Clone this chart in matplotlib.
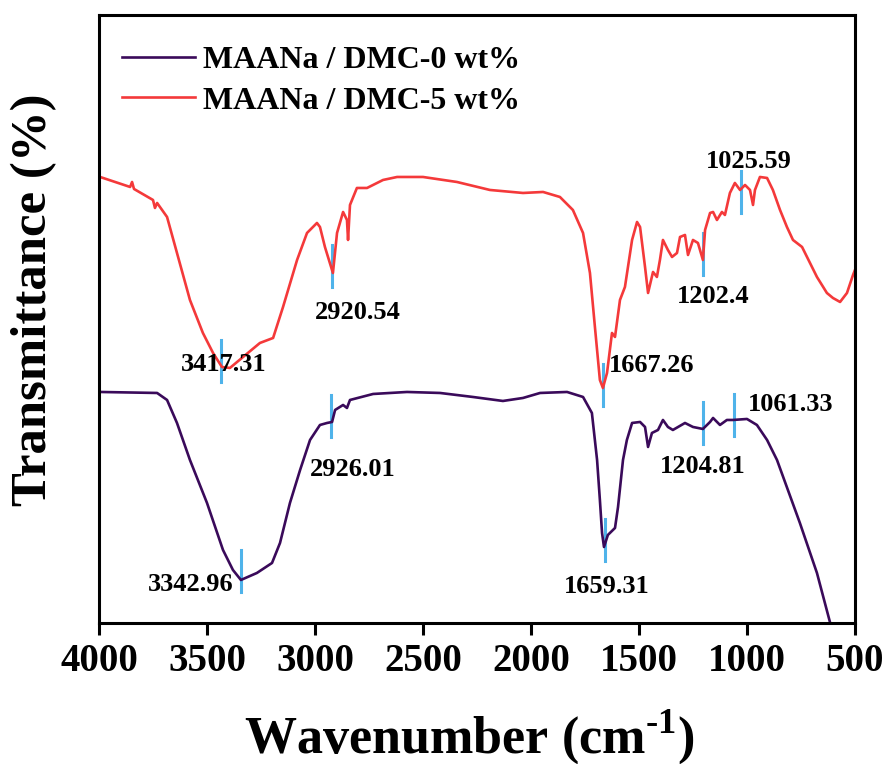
import matplotlib
matplotlib.use("Agg")
import matplotlib.pyplot as plt

plt.rcParams['font.family'] = ['Liberation Serif', 'DejaVu Serif']
plt.rcParams['font.weight'] = 'bold'
plt.rcParams['mathtext.fontset'] = 'custom'
plt.rcParams['mathtext.rm'] = 'Liberation Serif:bold'
plt.rcParams['mathtext.bf'] = 'Liberation Serif:bold'

# MAANa / DMC-0 wt% (wavenumber, transmittance a.u.)
wn_0 = [3995, 3731, 3685, 3639, 3579, 3500, 3426, 3380, 3343, 3269, 3199, 3162,
        3116, 3069, 3023, 2977, 2944, 2921, 2907, 2870, 2852, 2838, 2731, 2574,
        2421, 2269, 2130, 2037, 1958, 1833, 1759, 1718, 1694, 1681, 1671, 1662,
        1644, 1611, 1597, 1574, 1556, 1532, 1495, 1472, 1458, 1440, 1412, 1389,
        1366, 1343, 1319, 1287, 1250, 1204, 1171, 1157, 1125, 1093, 1065, 1000,
        954, 907, 861, 755, 676, 616, 569]
tr_0 = [231, 230, 223, 200, 163, 120, 73, 53, 43, 50, 60, 80,
        120, 153, 183, 198, 200, 201, 213, 218, 215, 223, 229, 231,
        230, 226, 222, 225, 230, 231, 226, 210, 163, 123, 90, 76,
        88, 95, 116, 163, 183, 200, 201, 196, 176, 190, 193, 203,
        196, 193, 196, 200, 196, 194, 201, 205, 198, 203, 203, 204,
        198, 183, 163, 100, 50, 1, -37]

# MAANa / DMC-5 wt%
wn_5 = [3995, 3856, 3847, 3838, 3750, 3741, 3731, 3685, 3639, 3579, 3519, 3472,
        3431, 3394, 3333, 3255, 3194, 3148, 3083, 3037, 2991, 2977, 2954, 2917,
        2898, 2870, 2852, 2847, 2838, 2806, 2759, 2685, 2620, 2500, 2343, 2190,
        2037, 1944, 1866, 1806, 1759, 1727, 1704, 1681, 1667, 1648, 1625, 1611,
        1588, 1565, 1532, 1509, 1495, 1472, 1458, 1435, 1417, 1403, 1389, 1366,
        1347, 1324, 1310, 1287, 1273, 1250, 1227, 1204, 1194, 1171, 1157, 1139,
        1116, 1102, 1079, 1056, 1032, 1009, 986, 972, 963, 940, 907, 880,
        847, 815, 787, 745, 722, 676, 630, 602, 569, 537, 509, 500]
tr_5 = [446, 436, 441, 434, 423, 415, 420, 406, 370, 323, 290, 270,
        256, 255, 266, 280, 285, 316, 363, 390, 400, 396, 376, 350,
        390, 411, 403, 383, 418, 435, 435, 443, 446, 446, 441, 433,
        430, 431, 426, 413, 390, 350, 296, 243, 235, 250, 290, 286,
        323, 336, 383, 401, 396, 356, 330, 351, 346, 363, 383, 373,
        366, 370, 386, 388, 368, 383, 380, 363, 393, 410, 411, 403,
        411, 408, 430, 440, 433, 438, 433, 418, 433, 446, 445, 433,
        413, 396, 383, 376, 366, 346, 330, 325, 321, 330, 348, 353]

# peak labels, marker positions and label positions
peak_text = ['3417.31', '2920.54', '1667.26', '1202.4', '1025.59',
             '3342.96', '2926.01', '1659.31', '1204.81', '1061.33']
mark_pos = [3435, 2920.54, 1667.26, 1204, 1025.59,
            3342.96, 2926.01, 1659.31, 1204.81, 1061.33]
mark_mid = [262, 357, 238, 369, 431,
            52, 207, 83, 200, 208]
label_xy = [(3421, 258), (2801, 310), (1440, 257), (1157, 326), (991, 461),
            (3574, 38), (2824, 153), (1648, 36), (1204, 156), (796, 218)]

fig = plt.figure(figsize=(8.88, 7.64), dpi=100)
ax = fig.add_axes([0.1115, 0.1846, 0.8513, 0.7958])

# blue peak markers sit under the curves
for x, m in zip(mark_pos, mark_mid):
    ax.plot([x, x], [m - 21, m + 21], color='#4fb3ea', lw=2.2, zorder=1)

ax.plot(wn_0, tr_0, color='#3a0a5a', lw=1.9, label='MAANa / DMC-0 wt%', zorder=2)
ax.plot(wn_5, tr_5, color='#f4393a', lw=1.9, label='MAANa / DMC-5 wt%', zorder=2)

for t, (x, y) in zip(peak_text, label_xy):
    ax.text(x, y, t, fontsize=19, fontweight='bold', ha='center', va='center', zorder=3)

ax.set_xlim(4000, 500)
ax.set_ylim(0, 608)
ax.set_xticks([4000, 3500, 3000, 2500, 2000, 1500, 1000, 500])
ax.set_yticks([])
for s in ax.spines.values():
    s.set_linewidth(2.2)
ax.tick_params(axis='x', direction='out', length=8.5, width=2.2, pad=6, labelsize=28)

ax.set_xlabel('Wavenumber (cm$^{\\text{-1}}$)', fontsize=37.5, fontweight='bold')
ax.xaxis.set_label_coords(0.49, -0.138)
ax.set_ylabel('Transmittance (%)', fontsize=36.5, fontweight='bold')
ax.yaxis.set_label_coords(-0.055, 0.531)

ax.legend(loc='upper left', bbox_to_anchor=(0.03, 0.95), frameon=False,
          handlelength=2.3, handletextpad=0.25,
          labelspacing=0.36, borderpad=0, borderaxespad=0,
          prop={'weight': 'bold', 'size': 23})

fig.savefig('out.png', dpi=100)
